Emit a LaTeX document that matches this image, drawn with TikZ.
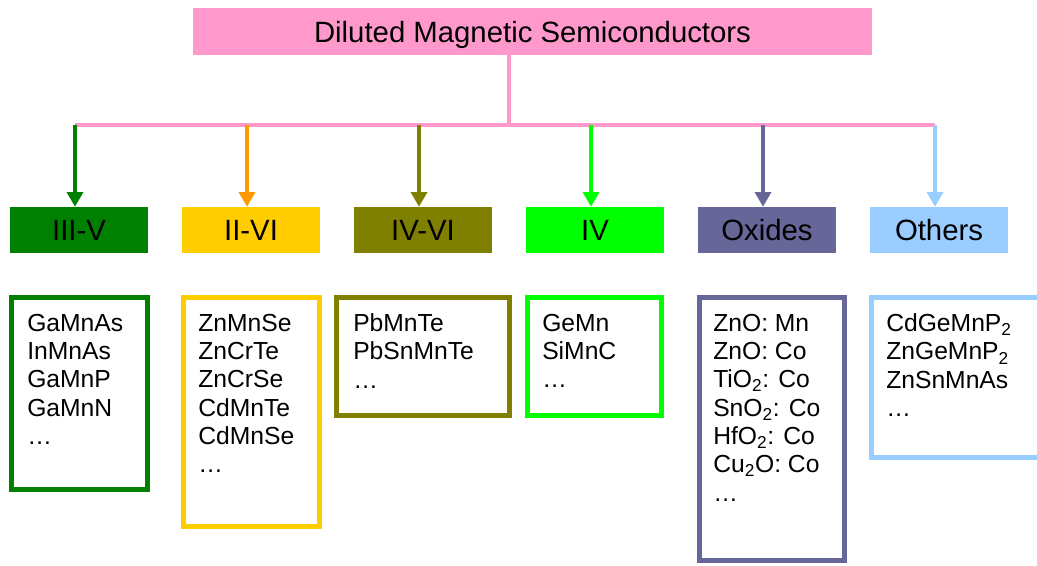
\documentclass[tikz,border=0pt]{standalone}
\usepackage{xcolor}
\usepackage{fontspec}
\setmainfont{Liberation Sans}
\usepackage{tikz}
\usetikzlibrary{arrows.meta, calc}

\definecolor{dmspink}{HTML}{FF99CC}
\definecolor{dmsgreen}{HTML}{008000}
\definecolor{dmsgold}{HTML}{FFCC00}
\definecolor{dmsorange}{HTML}{FF9900}
\definecolor{dmsolive}{HTML}{808000}
\definecolor{dmslime}{HTML}{00FF00}
\definecolor{dmsslate}{HTML}{666699}
\definecolor{dmssky}{HTML}{99CCFF}

\tikzset{
  headbox/.style={fill=dmspink, minimum width=509.25pt, minimum height=35.25pt, inner sep=0pt, text depth=0pt, font=\fontsize{22}{26}\selectfont},
  groupbox/.style={minimum width=103.5pt, minimum height=34.5pt, inner sep=0pt, text depth=0pt, font=\fontsize{22}{26}\selectfont},
  trunk/.style={dmspink, line width=3.5pt},
  feed/.style={line width=2.5pt, -{Triangle[width=12pt,length=11pt]}},
  listframe/.style={line width=4pt},
  listtext/.style={anchor=north west, align=left, inner sep=0pt, font=\fontsize{18.5}{21.25}\selectfont}
}

\begin{document}
\begin{tikzpicture}[x=0.75pt, y=-0.75pt]
    \useasboundingbox (0,0) rectangle (1037,565);

    % --- TOP: title and trunk ---
    \node[headbox] (dms) at (532.5,31.5) {Diluted Magnetic Semiconductors};
    \coordinate (hub) at (509,125);

    % --- GROUP BOXES ---
    \foreach \nm/\cx/\boxc/\lbl in {c1/79/dmsgreen/III-V, c2/251/dmsgold/II-VI, c3/423/dmsolive/IV-VI, c4/595/dmslime/IV, c5/767/dmsslate/Oxides, c6/939/dmssky/Others}
        \node[groupbox, fill=\boxc] (\nm) at (\cx,230) {\lbl};

    % Trunk and bus
    \draw[trunk] (dms.south -| hub) -- (hub);
    \draw[trunk] ([xshift=-3pt]c1.north |- hub) -- ([xshift=-3pt]c6.north |- hub);

    % Feed arrows
    \foreach \nm/\tipc in {c1/dmsgreen, c2/dmsorange, c3/dmsolive, c4/dmslime, c5/dmsslate, c6/dmssky}
        \draw[feed, \tipc] ([xshift=-3pt]\nm.north |- hub) -- ([xshift=-3pt]\nm.north);

    % --- MATERIAL LISTS ---
    \draw[listframe, dmsgreen] (11.5,297.5) rectangle (147.5,489.5);
    \draw[listframe, dmsgold] (183.5,297.5) rectangle (319.5,526.5);
    \draw[listframe, dmsolive] (336.5,297.5) rectangle (509.5,415.5);
    \draw[listframe, dmslime] (527.5,297.5) rectangle (661.5,415.5);
    \draw[listframe, dmsslate] (699.5,297.5) rectangle (844.5,560.5);
    \draw[listframe, dmssky] (871.5,297.5) rectangle (1050,457.5);

    \node[listtext] (m1) at (27,313.5) {GaMnAs\\InMnAs\\GaMnP\\GaMnN\\…};
    \node[listtext] (m2) at (198,313.5) {ZnMnSe\\ZnCrTe\\ZnCrSe\\CdMnTe\\CdMnSe\\…};
    \node[listtext] (m3) at (353,313.5) {PbMnTe\\PbSnMnTe\\…};
    \node[listtext] (m4) at (542,313.5) {GeMn\\SiMnC\\…};
    \node[listtext] (m5) at (713,313.5) {ZnO: Mn\\ZnO: Co\\TiO\textsubscript{2}: Co\\SnO\textsubscript{2}: Co\\HfO\textsubscript{2}: Co\\Cu\textsubscript{2}O: Co\\…};
    \node[listtext] (m6) at (886,313.5) {CdGeMnP\textsubscript{2}\\ZnGeMnP\textsubscript{2}\\ZnSnMnAs\\…};
\end{tikzpicture}
\end{document}
